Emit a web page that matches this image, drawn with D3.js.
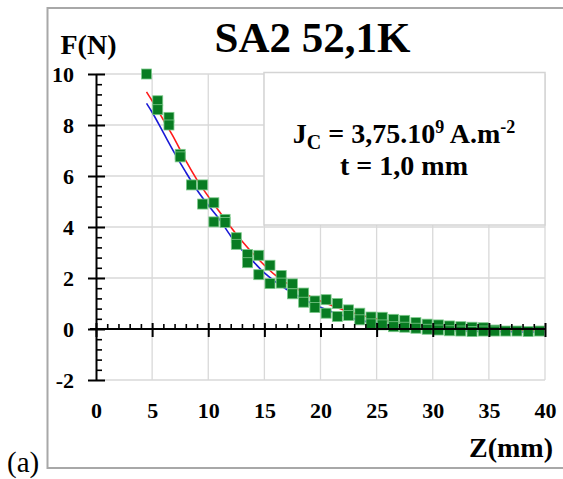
<!DOCTYPE html>
<html>
<head>
<meta charset="utf-8">
<script src="https://cdn.jsdelivr.net/npm/d3@7"></script>
<style>
  body { margin: 0; background: #fff; }
  svg { display: block; font-family: "Liberation Serif", "Times New Roman", serif; }
</style>
</head>
<body>
<svg id="chart" width="563" height="479"></svg>
<script>
// measured points (Z in mm, F in N)
const pointZ = [4.5, 5.5, 5.5, 6.5, 6.5, 7.5, 7.5, 8.5, 9.5, 9.5, 10.5, 10.5, 11.5, 11.5,
  12.5, 12.5, 13.5, 13.5, 14.5, 14.5, 15.5, 15.5, 16.5, 16.5, 17.5, 17.5, 18.5, 18.5,
  19.5, 19.5, 20.5, 20.5, 21.5, 21.5, 22.5, 22.5, 23.5, 23.5, 24.5, 24.5, 25.5, 25.5,
  26.5, 26.5, 27.5, 27.5, 28.5, 28.5, 29.5, 29.5, 30.5, 30.5, 31.5, 31.5, 32.5, 32.5,
  33.5, 33.5, 34.5, 34.5, 35.5, 35.5, 36.5, 37.5, 38.5, 39.5]
const pointF = [10.0, 8.95, 8.6, 8.3, 8.0, 6.85, 6.75, 5.65, 5.65, 4.9, 4.95, 4.2, 4.3, 4.18,
  3.58, 3.32, 2.92, 2.6, 2.89, 2.13, 2.5, 1.78, 2.1, 1.8, 1.77, 1.38, 1.41, 1.05,
  1.1, 0.84, 1.15, 0.62, 1.0, 0.49, 0.75, 0.53, 0.62, 0.36, 0.47, 0.2, 0.46, 0.16,
  0.38, 0.09, 0.34, 0.07, 0.25, 0.03, 0.19, -0.01, 0.16, -0.04, 0.12, -0.07, 0.09, -0.08,
  0.07, -0.1, 0.05, -0.08, -0.04, -0.08, -0.08, -0.08, -0.1, -0.08]

// curves
const curveZ = [4.5, 5, 6, 7, 8, 9, 10, 11, 12, 13, 14, 15, 16, 17, 18, 19, 20, 21, 22,
  23, 24, 25, 26, 27, 28, 29, 30, 31, 32, 33, 34, 35, 36, 37, 38, 39, 40]
const redF = [9.3, 8.95, 8.2, 7.45, 6.6, 5.85, 5.2, 4.6, 4.0, 3.45, 2.95, 2.5, 2.1, 1.8,
  1.55, 1.3, 1.1, 0.92, 0.76, 0.62, 0.5, 0.4, 0.32, 0.25, 0.19, 0.14, 0.1, 0.07, 0.04,
  0.02, 0.0, -0.02, -0.03, -0.04, -0.05, -0.06, -0.06]
const blueF = [8.85, 8.5, 7.7, 6.9, 6.15, 5.45, 4.85, 4.3, 3.65, 3.1, 2.65, 2.2, 1.85, 1.55,
  1.3, 1.05, 0.85, 0.68, 0.53, 0.4, 0.3, 0.22, 0.15, 0.09, 0.05, 0.01, -0.02, -0.04, -0.06,
  -0.08, -0.09, -0.1, -0.11, -0.11, -0.12, -0.12, -0.12]

const xTicks = [0, 5, 10, 15, 20, 25, 30, 35, 40]
const yTicks = [-2, 0, 2, 4, 6, 8, 10]

const svg = d3.select('#chart')

const x = d3.scaleLinear().domain([0, 40]).range([96, 545])
const y = d3.scaleLinear().domain([-2, 10]).range([380, 74])

// outer frame
svg.append('path')
  .attr('d', 'M566,8H47.5V468H566')
  .attr('fill', 'none').attr('stroke', '#a8a8a8').attr('stroke-width', 2)

// grid
const grid = svg.append('g').attr('stroke', '#d9d9d9').attr('stroke-width', 1.3)
grid.selectAll('line.v').data(xTicks.filter(d => d > 0)).join('line')
  .attr('x1', d => x(d)).attr('x2', d => x(d)).attr('y1', y(10)).attr('y2', y(-2))
grid.selectAll('line.h').data(yTicks).join('line')
  .attr('x1', x(0)).attr('x2', x(40)).attr('y1', d => y(d)).attr('y2', d => y(d))

// annotation box
svg.append('rect')
  .attr('x', 264).attr('y', 72.5).attr('width', x(40) - 264).attr('height', 152.5)
  .attr('fill', '#fff').attr('stroke', '#d4d4d4').attr('stroke-width', 1.5)

const note = svg.append('text')
  .attr('x', 404).attr('y', 143).attr('text-anchor', 'middle')
  .attr('font-size', 28).attr('font-weight', 'bold')
note.append('tspan').text('J')
note.append('tspan').attr('font-size', 20).attr('dy', 6).text('C')
note.append('tspan').attr('dy', -6).text(' = 3,75.10')
note.append('tspan').attr('font-size', 18).attr('dy', -10).text('9')
note.append('tspan').attr('dy', 10).text(' A.m')
note.append('tspan').attr('font-size', 18).attr('dy', -10).text('-2')
svg.append('text')
  .attr('x', 404).attr('y', 175).attr('text-anchor', 'middle')
  .attr('font-size', 28).attr('font-weight', 'bold')
  .text('t = 1,0 mm')

// curves
const line = d3.line().x(d => x(d[0])).y(d => y(d[1])).curve(d3.curveMonotoneX)
svg.append('path').datum(d3.zip(curveZ, blueF))
  .attr('d', line).attr('fill', 'none').attr('stroke', '#1a1ad6').attr('stroke-width', 1.6)
svg.append('path').datum(d3.zip(curveZ, redF))
  .attr('d', line).attr('fill', 'none').attr('stroke', '#ff1a1a').attr('stroke-width', 1.6)

// markers
svg.append('g').selectAll('rect').data(d3.zip(pointZ, pointF)).join('rect')
  .attr('x', d => x(d[0]) - 5).attr('y', d => y(d[1]) - 5)
  .attr('width', 10).attr('height', 10)
  .attr('fill', '#087c22').attr('stroke', '#7cc98a').attr('stroke-width', 0.8)

// y axis: labels + left part of major ticks
const yAxis = svg.append('g').attr('transform', `translate(${x(0)},0)`)
  .call(d3.axisLeft(y).tickValues(yTicks).tickFormat(d => String(d))
    .tickSizeInner(8).tickSizeOuter(0).tickPadding(14))
yAxis.select('.domain').attr('stroke', '#000').attr('stroke-width', 2)
yAxis.selectAll('line').attr('stroke-width', 2)
yAxis.selectAll('text').attr('font-size', 22).attr('font-weight', 'bold')
  .attr('font-family', '"Liberation Serif", serif')

// right part of major ticks and minor ticks
svg.append('g').attr('transform', `translate(${x(0)},0)`)
  .call(d3.axisRight(y).tickValues(yTicks).tickSize(9).tickFormat(''))
  .call(g => g.select('.domain').remove())
  .selectAll('line').attr('stroke-width', 2)
svg.append('g').attr('transform', `translate(${x(0)},0)`)
  .call(d3.axisRight(y).tickValues(d3.range(-2, 10.01, 0.4).filter(v => Math.abs(v / 2 - Math.round(v / 2)) > 0.01))
    .tickSize(6).tickFormat(''))
  .call(g => g.select('.domain').remove())
  .selectAll('line').attr('stroke-width', 1.6)

// x axis at F = 0
const xAxisLine = svg.append('g').attr('transform', `translate(0,${y(0)})`)
  .call(d3.axisBottom(x).tickValues(xTicks).tickSize(8).tickSizeOuter(0).tickFormat(''))
xAxisLine.select('.domain').attr('stroke-width', 2).attr('d', `M${x(0) - 6},0H${x(40)}`)
xAxisLine.selectAll('line').attr('stroke-width', 2).attr('y1', -6)
svg.append('g').attr('transform', `translate(0,${y(0)})`)
  .call(d3.axisTop(x).tickValues(d3.range(1, 40).filter(v => v % 5 !== 0)).tickSize(5).tickFormat(''))
  .call(g => g.select('.domain').remove())
  .selectAll('line').attr('stroke-width', 1.6)

// x tick labels under the plot
const xLabels = svg.append('g').attr('transform', `translate(0,${y(-2)})`)
  .call(d3.axisBottom(x).tickValues(xTicks).tickSize(0).tickPadding(22))
xLabels.select('.domain').remove()
xLabels.selectAll('text').attr('font-size', 22).attr('font-weight', 'bold')
  .attr('font-family', '"Liberation Serif", serif')

// titles
svg.append('text').attr('x', 312.5).attr('y', 51.5).attr('text-anchor', 'middle')
  .attr('font-size', 43).attr('font-weight', 'bold').text('SA2 52,1K')
svg.append('text').attr('x', 60.5).attr('y', 54).attr('font-size', 28)
  .attr('font-weight', 'bold').text('F(N)')
svg.append('text').attr('x', 553).attr('y', 457).attr('text-anchor', 'end')
  .attr('font-size', 28).attr('font-weight', 'bold').text('Z(mm)')
svg.append('text').attr('x', 7).attr('y', 472).attr('font-size', 29).text('(a)')
</script>
</body>
</html>
